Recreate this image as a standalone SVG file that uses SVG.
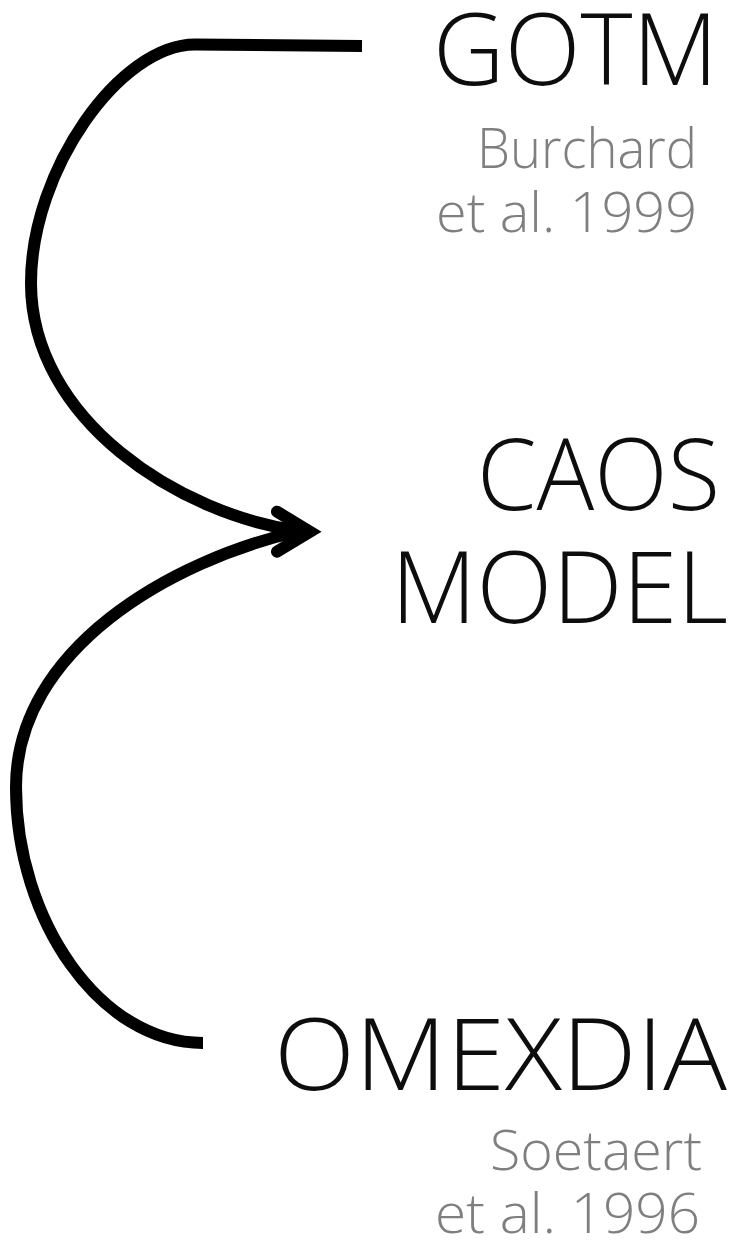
<svg xmlns="http://www.w3.org/2000/svg" width="738" height="1240" viewBox="0 0 738 1240">
  <style>
    .title { font-family: "Open Sans", "Liberation Sans", sans-serif; font-weight: 300; font-size: 100px; fill: #0d0d0d; }
    .cite { font-family: "Open Sans", "Liberation Sans", sans-serif; font-weight: 300; font-size: 56px; fill: #7f7f7f; }
    .link { fill: none; stroke: #000; stroke-width: 12; stroke-linecap: butt; }
    .head { fill: none; stroke: #000; stroke-width: 12; stroke-linecap: round; stroke-linejoin: miter; }
  </style>
  <rect width="738" height="1240" fill="#fff"/>

  <g id="connectors">
    <!-- GOTM into the model -->
    <path class="link" d="M362,46 L195,44.5 C120,44.5 31,170 31,283 C31,420 180,515 300,531"/>
    <!-- OMEXDIA into the model -->
    <path class="link" d="M300,531 C170,560 16,650 16,787 C16,920 100,1043 203,1043"/>
    <!-- shared arrowhead -->
    <path class="head" d="M277,511.7 L310,531.7 L277,551.7"/>
  </g>

  <g id="gotm">
    <text class="title" x="718" y="85" text-anchor="end" textLength="285" lengthAdjust="spacingAndGlyphs">GOTM</text>
    <text class="cite" x="697" y="168.3" text-anchor="end" textLength="220" lengthAdjust="spacingAndGlyphs">Burchard</text>
    <text class="cite" x="697" y="231.7" text-anchor="end" textLength="261" lengthAdjust="spacingAndGlyphs">et al. 1999</text>
  </g>

  <g id="caos">
    <text class="title" x="720" y="510" text-anchor="end" textLength="243" lengthAdjust="spacingAndGlyphs">CAOS</text>
    <text class="title" x="728" y="623.3" text-anchor="end" textLength="337" lengthAdjust="spacingAndGlyphs">MODEL</text>
  </g>

  <g id="omexdia">
    <text class="title" x="727" y="1090" text-anchor="end" textLength="453" lengthAdjust="spacingAndGlyphs">OMEXDIA</text>
    <text class="cite" x="702" y="1170" text-anchor="end" textLength="212" lengthAdjust="spacingAndGlyphs">Soetaert</text>
    <text class="cite" x="700" y="1233.3" text-anchor="end" textLength="265" lengthAdjust="spacingAndGlyphs">et al. 1996</text>
  </g>
</svg>
